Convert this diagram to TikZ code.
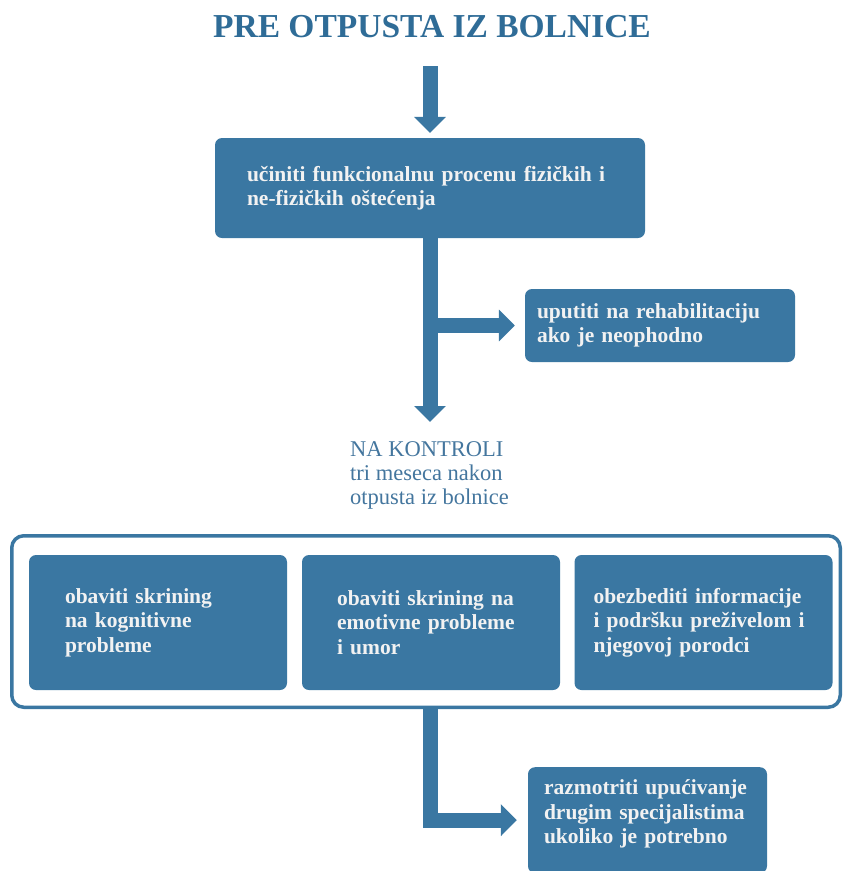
\documentclass[tikz,border=0pt]{standalone}
\usepackage{fontspec}
\setmainfont{Liberation Serif}
\usetikzlibrary{arrows.meta,calc}
\definecolor{FlowBlue}{HTML}{3A77A2}
\definecolor{TitleBlue}{HTML}{2F6C97}
\definecolor{NoteBlue}{HTML}{44769E}
\definecolor{BoxText}{HTML}{F2F2F2}

\begin{document}
\begin{tikzpicture}[x=1pt,y=-1pt,line cap=butt,line join=miter,
  stepbox/.style={fill=FlowBlue,rounded corners=7pt,text=BoxText,inner sep=0pt,
    font=\bfseries\fontsize{21.5}{24.5}\selectfont,align=left},
  flow/.style={draw=FlowBlue,line width=15pt,-{Triangle[width=31pt,length=16pt]}}]

% Page: 1 unit = 1 px of the 846 x 871 sheet, y pointing down
\path[use as bounding box,clip] (0,0) rectangle (846,871);

% Box widths
\def\boxw{258}
\def\boxh{135}

% Title
\node[inner sep=0pt,text=TitleBlue,font=\bfseries\fontsize{33.5}{36}\selectfont] (title) at (432,27)
  {PRE OTPUSTA IZ BOLNICE};

% ---- BEFORE DISCHARGE ----
\node[stepbox,minimum width=430pt,minimum height=100pt,text width=366pt] (assess) at (430,188)
  {učiniti funkcionalnu procenu fizičkih i\\ne-fizičkih oštećenja};

\node[stepbox,minimum width=270pt,minimum height=73pt,text width=246pt] (rehab) at (660,325.5)
  {uputiti na rehabilitaciju\\ako je neophodno};

% Control visit text
\node[anchor=north west,inner sep=0pt,align=left,text=NoteBlue,
  font=\fontsize{22.5}{24}\selectfont] (control) at (350,441)
  {NA KONTROLI\\tri meseca nakon\\otpusta iz bolnice};

% ---- THREE MONTHS ----
\node[draw=FlowBlue,line width=3.5pt,rounded corners=12pt,
  minimum width=828.5pt,minimum height=171.5pt] (frame) at (426,621.5) {};

\node[stepbox,minimum width=\boxw pt,minimum height=\boxh pt,text width=186pt] (cognitive) at (158,622.5)
  {obaviti skrining\\na kognitivne\\probleme};
\node[stepbox,minimum width=\boxw pt,minimum height=\boxh pt,text width=188pt] (emotive) at (431,622.5)
  {obaviti skrining na\\emotivne probleme\\i umor};
\node[stepbox,minimum width=\boxw pt,minimum height=\boxh pt,text width=220pt] (support) at (703.5,622.5)
  {obezbediti informacije\\i podršku preživelom i\\njegovoj porodci};

\node[stepbox,anchor=north,minimum width=239pt,minimum height=106pt,text width=207pt] (refer) at (647.5,767)
  {razmotriti upućivanje\\drugim specijalistima\\ukoliko je potrebno\\[-8pt]\mbox{}};

% ---- ARROWS ----
\draw[flow,shorten <=28pt,shorten >=5pt] (title.south -| assess.north) -- (assess.north);
\draw[flow,shorten >=19pt] (assess.south) -- (assess.south |- control.north);
\coordinate (fork) at (assess.south |- rehab.west);
\draw[flow,shorten >=10pt] (fork) -- (rehab.west);
\draw[flow,shorten >=11pt] (assess.south |- frame.south) |- (refer.west);

\end{tikzpicture}
\end{document}
